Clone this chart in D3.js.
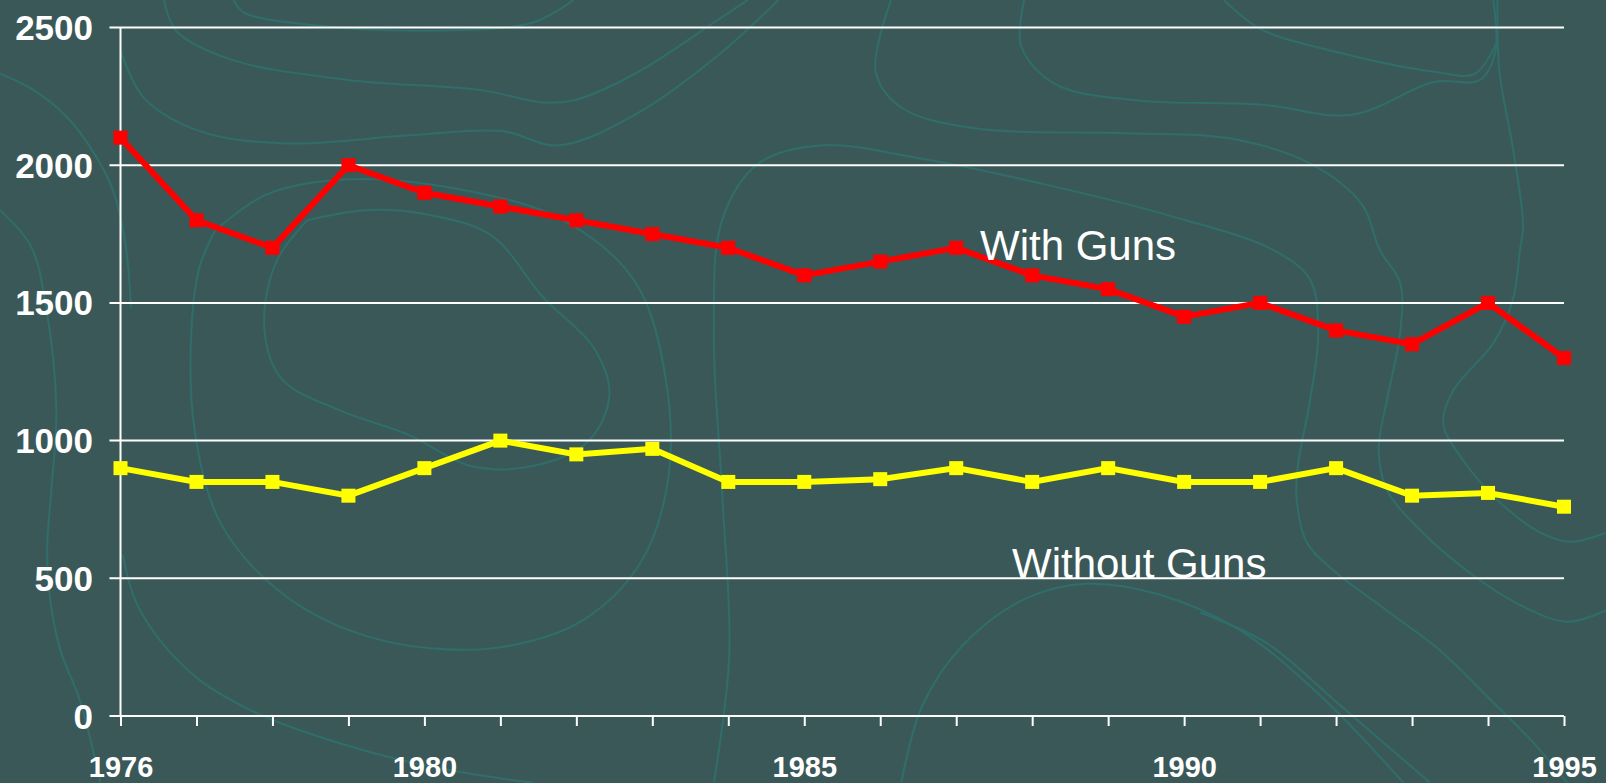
<!DOCTYPE html>
<html>
<head>
<meta charset="utf-8">
<script src="https://cdn.jsdelivr.net/npm/d3@7"></script>
<style>
  html, body { margin: 0; padding: 0; background: #3b5858; overflow: hidden; }
  svg { display: block; }
</style>
</head>
<body>
<div id="chart"></div>
<script>
// Size
const WIDTH = 1606;
const HEIGHT = 783;

// Data
const years = d3.range(1976, 1996);
const withGuns = [2100, 1800, 1700, 2000, 1900, 1850, 1800, 1750, 1700, 1600,
                  1650, 1700, 1600, 1550, 1450, 1500, 1400, 1350, 1500, 1300];
const withoutGuns = [900, 850, 850, 800, 900, 1000, 950, 970, 850, 850,
                     860, 900, 850, 900, 850, 850, 900, 800, 810, 760];
const yTicks = [0, 500, 1000, 1500, 2000, 2500];
const xLabels = [1976, 1980, 1985, 1990, 1995];

// Background contour lines (decoration, in 1568-wide reference coords)
const contours = [
  [[160,0],[172,30],[225,58],[340,78],[470,88],[530,100],[560,98],[620,72],[700,20],[730,0]],
  [[118,50],[140,95],[195,128],[280,140],[400,132],[490,128],[545,142],[620,112],[700,55],[760,0]],
  [[228,0],[238,12],[300,24],[420,30],[520,22],[560,0]],
  [[0,72],[33,88],[66,115],[92,150],[110,185],[122,235],[128,300]],
  [[0,205],[30,240],[45,300],[55,400],[50,480],[46,537],[49,586],[59,635],[78,684],[98,764]],
  [[120,542],[132,586],[156,625],[195,664],[244,693],[293,713],[391,742],[469,757],[520,764]],
  [[697,764],[712,640],[705,480],[697,330],[705,215],[740,160],[800,142],[900,155],[1020,180],[1140,210],
   [1243,244],[1279,273],[1287,325],[1279,391],[1267,456],[1266,488],[1276,530],[1302,557],[1354,596],
   [1406,635],[1455,683],[1497,725],[1530,764]],
  [[870,0],[855,70],[880,105],[950,125],[1100,130],[1200,135],[1280,160],[1330,200],[1347,244],
   [1367,276],[1367,325],[1354,391],[1346,439],[1354,478],[1384,515],[1432,557],[1481,589],[1530,607],[1568,596]],
  [[1462,0],[1464,70],[1478,150],[1487,220],[1484,244],[1477,293],[1458,335],[1419,381],[1409,413],
   [1426,446],[1465,491],[1504,520],[1533,529],[1568,520]],
  [[1000,0],[997,45],[1030,82],[1110,98],[1230,102],[1320,112],[1400,80],[1445,78],[1460,50],[1458,0]],
  [[1195,0],[1230,28],[1310,52],[1400,70],[1440,72],[1462,40]],
  [[880,764],[900,690],[940,630],[1000,585],[1060,570],[1130,580],[1210,615],[1290,680],[1370,764]],
  [[1172,598],[1237,628],[1302,683],[1367,739],[1396,764]],
  [[210,225],[260,190],[340,175],[450,185],[550,215],[620,275],[650,370],[652,470],[625,550],[570,605],
   [500,630],[420,633],[340,615],[270,575],[215,510],[190,420],[187,320],[195,260],[210,225]],
  [[300,215],[360,205],[420,210],[480,230],[530,290],[580,340],[595,385],[575,430],[520,455],[460,455],
   [400,425],[330,400],[275,370],[258,320],[270,255],[300,215]]
];

const svg = d3.select("#chart")
    .append("svg")
    .attr("width", WIDTH)
    .attr("height", HEIGHT);

svg.append("rect")
    .attr("width", WIDTH)
    .attr("height", HEIGHT)
    .attr("fill", "#3b5858");

// Contours
const k = WIDTH / 1568;
const contourLine = d3.line()
    .x(d => d[0] * k)
    .y(d => d[1] * k)
    .curve(d3.curveCatmullRom.alpha(0.5));

svg.append("g")
    .selectAll("path")
    .data(contours)
    .join("path")
    .attr("d", contourLine)
    .attr("fill", "none")
    .attr("stroke", "#2f6e6a")
    .attr("stroke-width", 2);

// Scales
const x = d3.scaleLinear().domain([1976, 1995]).range([120.5, 1564]);
const y = d3.scaleLinear().domain([0, 2500]).range([716, 27.5]);

const lineColor = "#fff";

// Gridlines with left tick stubs
svg.append("g")
    .selectAll("line")
    .data(yTicks)
    .join("line")
    .attr("x1", x.range()[0] - 11)
    .attr("x2", x.range()[1])
    .attr("y1", d => y(d))
    .attr("y2", d => y(d))
    .attr("stroke", lineColor)
    .attr("stroke-width", 2);

// Y axis line
svg.append("line")
    .attr("x1", x.range()[0])
    .attr("x2", x.range()[0])
    .attr("y1", y(0))
    .attr("y2", y(2500))
    .attr("stroke", lineColor)
    .attr("stroke-width", 2);

// Y labels
svg.append("g")
    .selectAll("text")
    .data(yTicks)
    .join("text")
    .attr("x", 93)
    .attr("y", d => y(d) + 12.5)
    .attr("text-anchor", "end")
    .attr("fill", "#fff")
    .style("font-family", "'Liberation Sans', Arial, sans-serif")
    .style("font-weight", "bold")
    .style("font-size", "35px")
    .text(d => d);

// X axis
const xAxis = d3.axisBottom(x)
    .tickValues(years)
    .tickSize(10)
    .tickSizeOuter(0)
    .tickFormat(d => xLabels.includes(d) ? d : "");

const gx = svg.append("g")
    .attr("transform", `translate(0,${y(0)})`)
    .call(xAxis);

gx.select(".domain").remove();
gx.selectAll(".tick line")
    .attr("stroke", lineColor)
    .attr("stroke-width", 2);
gx.selectAll(".tick text")
    .attr("fill", "#fff")
    .attr("y", 61)
    .attr("dy", 0)
    .style("font-family", "'Liberation Sans', Arial, sans-serif")
    .style("font-weight", "bold")
    .style("font-size", "29px");

// Series
const series = [
  { name: "With Guns", values: withGuns, color: "#ff0000" },
  { name: "Without Guns", values: withoutGuns, color: "#ffff00" }
];

const seriesLine = d3.line()
    .x((d, i) => x(years[i]))
    .y(d => y(d));

series.forEach(s => {
    svg.append("path")
        .datum(s.values)
        .attr("d", seriesLine)
        .attr("fill", "none")
        .attr("stroke", s.color)
        .attr("stroke-width", 6)
        .attr("stroke-linejoin", "miter");

    svg.append("g")
        .selectAll("rect")
        .data(s.values)
        .join("rect")
        .attr("x", (d, i) => x(years[i]) - 7)
        .attr("y", d => y(d) - 7)
        .attr("width", 14)
        .attr("height", 14)
        .attr("fill", s.color);
});

// Series labels
const labelStyle = sel => sel
    .attr("fill", "#fff")
    .style("font-family", "'Liberation Sans', Arial, sans-serif")
    .style("font-size", "42px");

svg.append("text")
    .attr("x", 980)
    .attr("y", 260)
    .call(labelStyle)
    .text("With Guns");

svg.append("text")
    .attr("x", 1012)
    .attr("y", 578)
    .call(labelStyle)
    .text("Without Guns");
</script>
</body>
</html>
